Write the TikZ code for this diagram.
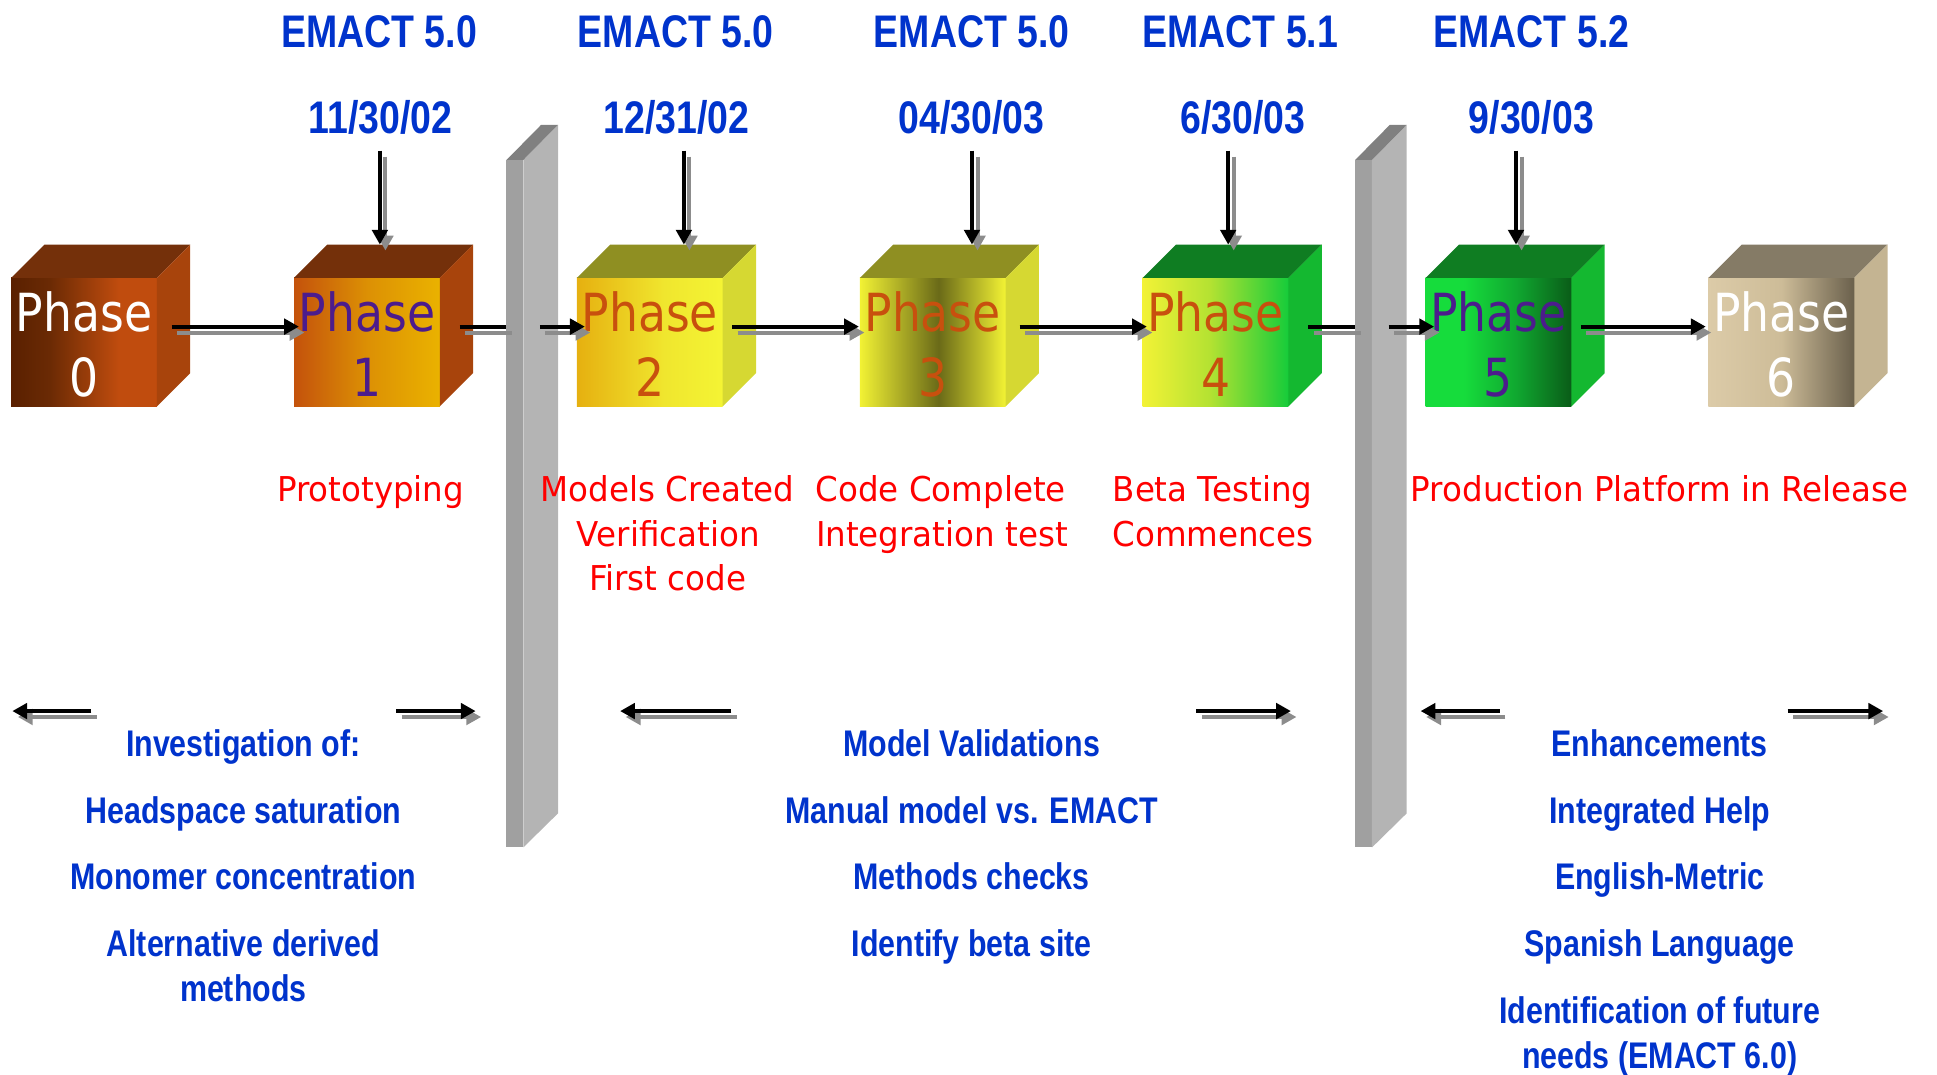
\documentclass[tikz,border=0pt]{standalone}
\usepackage{fontspec}
\setmainfont{Liberation Sans}
\newfontfamily\bluefam[FakeStretch=0.82]{Liberation Sans}
\newfontfamily\phasefam[FakeStretch=0.87]{DejaVu Sans}
\newfontfamily\redfam[FakeStretch=0.95]{DejaVu Sans}
\usetikzlibrary{arrows.meta}

\definecolor{hdrblue}{RGB}{0,51,204}
\definecolor{lblred}{RGB}{255,0,0}
\definecolor{shadowgray}{RGB}{140,140,140}
\definecolor{wallfrontc}{RGB}{160,160,160}
\definecolor{wallsidec}{RGB}{180,180,180}
\definecolor{walltopc}{RGB}{128,128,128}
\definecolor{txtpurple}{HTML}{4C1C8C}
\definecolor{txtorange}{HTML}{C8500E}

\definecolor{c0a}{HTML}{5A2000}\definecolor{c0m}{HTML}{6A2A04}\definecolor{c0b}{HTML}{C04C0E}
\definecolor{c1a}{HTML}{C4520C}\definecolor{c1m}{HTML}{DC9004}\definecolor{c1b}{HTML}{EAB200}
\definecolor{c2a}{HTML}{E6B010}\definecolor{c2m}{HTML}{F0E62E}\definecolor{c2b}{HTML}{F4F434}
\definecolor{c3a}{HTML}{F2F234}\definecolor{c3m}{HTML}{6A6A18}
\definecolor{c4a}{HTML}{F2F236}\definecolor{c4m}{HTML}{B4E232}\definecolor{c4b}{HTML}{16CC3A}
\definecolor{c5a}{HTML}{16DC3C}\definecolor{c5m}{HTML}{10A830}\definecolor{c5b}{HTML}{0A5C18}
\definecolor{c6a}{HTML}{DCCBA8}\definecolor{c6m}{HTML}{CDBC98}\definecolor{c6b}{HTML}{6A604C}
\definecolor{topbrown}{HTML}{74300A}\definecolor{sidebrown}{HTML}{A8440C}
\definecolor{topolive}{HTML}{8F8F22}\definecolor{sideolive}{HTML}{D6D832}
\definecolor{topgreen}{HTML}{0F7D22}\definecolor{sidegreen}{HTML}{14B830}
\definecolor{toptaupe}{HTML}{857B66}\definecolor{sidetaupe}{HTML}{C4B492}

\pgfdeclarehorizontalshading{shzero}{100bp}{color(0bp)=(c0a); color(25bp)=(c0a); color(38bp)=(c0m); color(62bp)=(c0b); color(100bp)=(c0b)}
\pgfdeclarehorizontalshading{shone}{100bp}{color(0bp)=(c1a); color(25bp)=(c1a); color(50bp)=(c1m); color(75bp)=(c1b); color(100bp)=(c1b)}
\pgfdeclarehorizontalshading{shtwo}{100bp}{color(0bp)=(c2a); color(25bp)=(c2a); color(55bp)=(c2m); color(75bp)=(c2b); color(100bp)=(c2b)}
\pgfdeclarehorizontalshading{shthree}{100bp}{color(0bp)=(c3a); color(25bp)=(c3a); color(52bp)=(c3m); color(75bp)=(c3a); color(100bp)=(c3a)}
\pgfdeclarehorizontalshading{shfour}{100bp}{color(0bp)=(c4a); color(25bp)=(c4a); color(48bp)=(c4m); color(75bp)=(c4b); color(100bp)=(c4b)}
\pgfdeclarehorizontalshading{shfive}{100bp}{color(0bp)=(c5a); color(25bp)=(c5a); color(38bp)=(c5a); color(56bp)=(c5m); color(75bp)=(c5b); color(100bp)=(c5b)}
\pgfdeclarehorizontalshading{shsix}{100bp}{color(0bp)=(c6a); color(25bp)=(c6a); color(50bp)=(c6m); color(75bp)=(c6b); color(100bp)=(c6b)}

\newcommand\drawcube[7]{%
  \node[cubefront, shading=#3] (#1) at (#2+59,277) {};
  \fill[#4] (#1.north west) -- ++(27,-27) -- ++(118,0) -- (#1.north east) -- cycle;
  \fill[#5] (#1.north east) -- ++(27,-27) -- ++(0,104) -- (#1.south east) -- cycle;
  \coordinate (#1top) at ([shift={(27,-27)}]#1.north);
  \node[phasetxt, text=#6] (#1word) at (#2+59,268.5) {Phase};
  \node[phasetxt, text=#6] (#1num) at (#2+59,321) {#7};
}
\newcommand\drawwall[2]{%
  \node[wallfront] (#1) at (#2,407.75) {};
  \fill[wallsidec] (#1.north east) -- ++(28.1,-28.5) -- ++(0,557.4) -- (#1.south east) -- cycle;
  \fill[walltopc] (#1.north west) -- ++(28.1,-28.5) -- ++(13.6,0) -- (#1.north east) -- cycle;
}
\newcommand\shadarrow[3]{%
  \draw[#1sh] ([shift={(4.5,4.8)}]#2) -- ([shift={(4.5,4.8)}]#3);
  \draw[#1] (#2) -- (#3);
}

\begin{document}
\begin{tikzpicture}[x=1pt,y=-1pt,
  cubefront/.style={rectangle,minimum width=118pt,minimum height=104pt,inner sep=0pt,outer sep=0pt},
  wallfront/.style={rectangle,fill=wallfrontc,minimum width=13.6pt,minimum height=556.5pt,inner sep=0pt,outer sep=0pt},
  phasetxt/.style={font=\phasefam\fontsize{42.5}{44}\selectfont,inner sep=0pt,anchor=base},
  hdr/.style={font=\bluefam\bfseries\fontsize{37}{40}\selectfont,text=hdrblue,inner sep=0pt,anchor=base},
  item/.style={font=\bluefam\bfseries\fontsize{30}{32}\selectfont,text=hdrblue,inner sep=0pt,anchor=base},
  redlbl/.style={font=\redfam\fontsize{27.7}{30}\selectfont,text=lblred,inner sep=0pt,anchor=base},
  arr/.style={line width=3.2pt,draw=black,-{Triangle[length=12pt,width=12.5pt]}},
  arrsh/.style={line width=3.2pt,draw=shadowgray,-{Triangle[length=12pt,width=12.5pt,fill=shadowgray]}},
  seg/.style={line width=3.2pt,draw=black},
  segsh/.style={line width=3.2pt,draw=shadowgray}]

\useasboundingbox (0,0) rectangle (1568,870);

% walls
\drawwall{wa}{416.8}
\drawwall{wb}{1103.8}

% cubes
\drawcube{p0}{9}{shzero}{topbrown}{sidebrown}{white}{0}
\drawcube{p1}{238}{shone}{topbrown}{sidebrown}{txtpurple}{1}
\drawcube{p2}{467}{shtwo}{topolive}{sideolive}{txtorange}{2}
\drawcube{p3}{696}{shthree}{topolive}{sideolive}{txtorange}{3}
\drawcube{p4}{925}{shfour}{topgreen}{sidegreen}{txtorange}{4}
\drawcube{p5}{1154}{shfive}{topgreen}{sidegreen}{txtpurple}{5}
\drawcube{p6}{1383}{shsix}{toptaupe}{sidetaupe}{white}{6}

% headers
\node[hdr] (e1) at (307,38.3) {EMACT 5.0};
\node[hdr] (e2) at (547,38.3) {EMACT 5.0};
\node[hdr] (e3) at (786.6,38.3) {EMACT 5.0};
\node[hdr] (e4) at (1004,38.3) {EMACT 5.1};
\node[hdr] (e5) at (1239.7,38.3) {EMACT 5.2};
\node[hdr] (d1) at (308,108) {11/30/02};
\node[hdr] (d2) at (547.6,108) {12/31/02};
\node[hdr] (d3) at (786.6,108) {04/30/03};
\node[hdr] (d4) at (1006,108) {6/30/03};
\node[hdr] (d5) at (1239.6,108) {9/30/03};

% vertical arrows
\coordinate (v1s) at (307.5,122);  \coordinate (v1e) at (v1s |- p1top);
\coordinate (v2s) at (553.6,122);  \coordinate (v2e) at (v2s |- p2top);
\coordinate (v3s) at (786.8,122);  \coordinate (v3e) at (v3s |- p3top);
\coordinate (v4s) at (994.2,122);  \coordinate (v4e) at (v4s |- p4top);
\coordinate (v5s) at (1227.2,122); \coordinate (v5e) at (v5s |- p5top);
\shadarrow{arr}{v1s}{v1e}
\shadarrow{arr}{v2s}{v2e}
\shadarrow{arr}{v3s}{v3e}
\shadarrow{arr}{v4s}{v4e}
\shadarrow{arr}{v5s}{v5e}

% horizontal arrows between cubes
\coordinate (h01s) at ([shift={(12,-12.6)}]p0.east);
\coordinate (h01e) at ([shift={(4,-12.6)}]p1.west);
\coordinate (h1as) at ([shift={(16,-12.6)}]p1.east);
\coordinate (h1ae) at (wa.west |- h1as);
\coordinate (ha2s) at ([shift={(13.4,-12.6)}]wa.east |- p2.west);
\coordinate (ha2e) at ([shift={(6.4,-12.6)}]p2.west);
\coordinate (h23s) at ([shift={(7.7,-12.6)}]p2.east);
\coordinate (h23e) at ([shift={(-0.7,-12.6)}]p3.west);
\coordinate (h34s) at ([shift={(11.4,-12.6)}]p3.east);
\coordinate (h34e) at ([shift={(3.4,-12.6)}]p4.west);
\coordinate (h4bs) at ([shift={(16,-12.6)}]p4.east);
\coordinate (h4be) at (wb.west |- h4bs);
\coordinate (hb5s) at ([shift={(13.4,-12.6)}]wb.east |- p5.west);
\coordinate (hb5e) at ([shift={(6.9,-12.6)}]p5.west);
\coordinate (h56s) at ([shift={(7.7,-12.6)}]p5.east);
\coordinate (h56e) at ([shift={(-2.2,-12.6)}]p6.west);
\shadarrow{arr}{h01s}{h01e}
\shadarrow{seg}{h1as}{h1ae}
\shadarrow{arr}{ha2s}{ha2e}
\shadarrow{arr}{h23s}{h23e}
\shadarrow{arr}{h34s}{h34e}
\shadarrow{seg}{h4bs}{h4be}
\shadarrow{arr}{hb5s}{hb5e}
\shadarrow{arr}{h56s}{h56e}

% red labels
\node[redlbl] (r1) at (300,406) {Prototyping};
\node[redlbl] (r2a) at (540.5,406) {Models Created};
\node[redlbl] (r2b) at (541,442) {Verification};
\node[redlbl] (r2c) at (540.5,477.6) {First code};
\node[redlbl] (r3a) at (761.5,406) {Code Complete};
\node[redlbl] (r3b) at (762.5,442) {Integration test};
\node[redlbl] (r4a) at (981.5,406) {Beta Testing};
\node[redlbl] (r4b) at (982,442) {Commences};
\node[redlbl] (r5) at (1343.5,406) {Production Platform in Release};

% bottom range arrows
\coordinate (la1s) at (74,575.6);    \coordinate (la1e) at (10,575.6);
\coordinate (ra1s) at (320.6,575.6); \coordinate (ra1e) at (385,575.6);
\coordinate (la2s) at (592,575.6);   \coordinate (la2e) at (502,575.6);
\coordinate (ra2s) at (968.4,575.6); \coordinate (ra2e) at (1045,575.6);
\coordinate (la3s) at (1214,575.6);  \coordinate (la3e) at (1150,575.6);
\coordinate (ra3s) at (1447,575.6);  \coordinate (ra3e) at (1524.4,575.6);
\shadarrow{arr}{la1s}{la1e}
\shadarrow{arr}{ra1s}{ra1e}
\shadarrow{arr}{la2s}{la2e}
\shadarrow{arr}{ra2s}{ra2e}
\shadarrow{arr}{la3s}{la3e}
\shadarrow{arr}{ra3s}{ra3e}

% bottom blue items
\node[item] (i11) at (197,612.5) {Investigation of:};
\node[item] (i12) at (197,666.5) {Headspace saturation};
\node[item] (i13) at (197,720) {Monomer concentration};
\node[item] (i14) at (197,774.4) {Alternative derived};
\node[item] (i15) at (197,810.8) {methods};

\node[item] (i21) at (786.5,612.5) {Model Validations};
\node[item] (i22) at (786.5,666.5) {Manual model vs. EMACT};
\node[item] (i23) at (786.5,720) {Methods checks};
\node[item] (i24) at (786.5,774.4) {Identify beta site};

\node[item] (i31) at (1343.5,612.5) {Enhancements};
\node[item] (i32) at (1343.5,666.5) {Integrated Help};
\node[item] (i33) at (1343.5,720) {English-Metric};
\node[item] (i34) at (1343.5,774.4) {Spanish Language};
\node[item] (i35) at (1343.5,828.4) {Identification of future};
\node[item] (i36) at (1343.5,864.8) {needs (EMACT 6.0)};
\end{tikzpicture}
\end{document}
